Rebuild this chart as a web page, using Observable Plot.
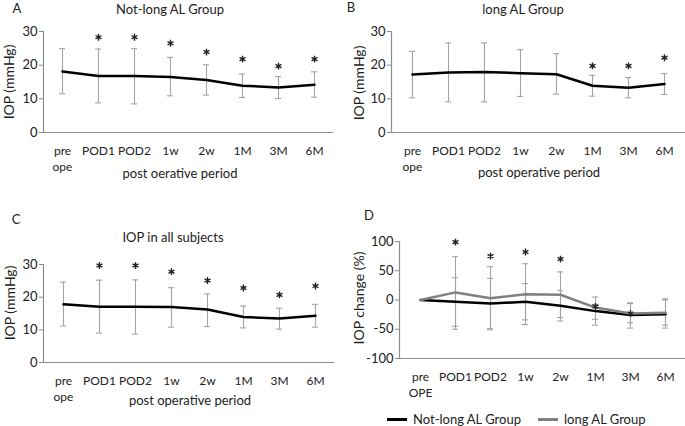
<!DOCTYPE html>
<html>
<head>
<meta charset="utf-8">
<script src="https://cdn.jsdelivr.net/npm/d3@7"></script>
<script src="https://cdn.jsdelivr.net/npm/@observablehq/plot@0.6"></script>
<style>
  html, body { margin: 0; padding: 0; background: #fff; }
  #root { position: relative; width: 685px; height: 426px; font-family: Lato, "Open Sans", sans-serif; color: #222; overflow: hidden; }
  .abs { position: absolute; white-space: nowrap; }
  .c { transform: translate(-50%, -50%); }
  .rot { transform: translate(-50%, -50%) rotate(-90deg); font-size: 14px !important; }
  .t { font-size: 13px; }
  .svgwrap { position: absolute; }
  .leg { position: absolute; height: 3px; }
</style>
</head>
<body>
<div id="root"></div>
<script>
// ---- data ----
const periods = ["pre", "POD1", "POD2", "1w", "2w", "1M", "3M", "6M"];

// Panel A: Not-long AL Group, IOP (mmHg)
const notLongMean = [18.1, 16.8, 16.8, 16.5, 15.6, 13.9, 13.4, 14.2];
const notLongHigh = [24.9, 24.8, 24.9, 22.3, 20.1, 17.4, 16.6, 18.0];
const notLongLow  = [11.5, 8.8, 8.5, 10.9, 11.1, 10.4, 10.1, 10.5];
const notLongStar = [null, 28.3, 28.3, 26.5, 23.9, 21.8, 19.7, 21.8];

// Panel B: long AL Group
const longMean = [17.2, 17.8, 18.0, 17.6, 17.3, 13.9, 13.3, 14.4];
const longHigh = [24.1, 26.6, 26.6, 24.6, 23.4, 17.0, 16.3, 17.5];
const longLow  = [10.3, 9.1, 9.1, 10.7, 11.4, 10.8, 10.3, 11.3];
const longStar = [null, null, null, null, null, 19.8, 19.8, 22.2];

// Panel C: all subjects
const allMean = [17.8, 17.1, 17.1, 17.0, 16.2, 13.9, 13.5, 14.3];
const allHigh = [24.6, 25.2, 25.3, 22.9, 21.0, 17.3, 16.6, 17.8];
const allLow  = [11.2, 9.0, 8.7, 10.8, 11.0, 10.6, 10.2, 10.8];
const allStar = [null, 29.7, 29.7, 27.8, 25.1, 22.8, 20.7, 23.4];

// Panel D: IOP change (%)
const chgNotLongMean = [0, -3, -6, -3, -10, -19, -25.5, -24.5];
const chgNotLongHigh = [null, 38, 37, 28, 16, -8, -6, 0];
const chgNotLongLow  = [null, -45, -49, -34, -36, -43, -48, -48];
const chgLongMean = [0, 13, 3, 10, 9, -13, -23, -22];
const chgLongHigh = [null, 74, 57, 62, 48, 5, -5, 2];
const chgLongLow  = [null, -50, -51, -42, -30, -33, -39, -43];
const chgStar = [null, 99, 75, 82, 70, -11, -23, null];

const iopTicks = [0, 10, 20, 30];
const chgTicks = [-100, -50, 0, 50, 100];

// ---- helpers ----
const rows = (mean, hi, lo, star) => periods.map((t, i) => ({t, m: mean[i], hi: hi[i], lo: lo[i], star: star ? star[i] : null}));
const AXIS = "#8c8c8c";
const ERR = "#a3a3a3";

function errMarks(data, color) {
  const d = data.filter(r => r.hi != null);
  return [
    Plot.ruleX(d, {x: "t", y1: "lo", y2: "hi", stroke: color, strokeWidth: 1.1}),
    Plot.ruleY(d, {x1: "t", x2: "t", y: "hi", stroke: color, strokeWidth: 1.1, insetLeft: -3, insetRight: -3}),
    Plot.ruleY(d, {x1: "t", x2: "t", y: "lo", stroke: color, strokeWidth: 1.1, insetLeft: -3, insetRight: -3})
  ];
}
function starMarks(data) {
  return Plot.dot(data.filter(r => r.star != null), {x: "t", y: "star", symbol: "asterisk", r: 3.2, stroke: "#222", strokeWidth: 1.4});
}

function panel({left, top, width, height, mL, mR, mT, mB, yDomain, yTicks, preLabel, marks}) {
  const svg = Plot.plot({
    width, height,
    marginLeft: mL, marginRight: mR, marginTop: mT, marginBottom: mB,
    style: {fontFamily: "Lato, 'Open Sans', sans-serif", fontSize: "12px", color: "#222", background: "transparent", overflow: "visible"},
    x: {type: "point", domain: periods, padding: 0.5, label: null},
    y: {domain: yDomain, label: null},
    marks: [
      Plot.axisY({ticks: yTicks, tickSize: 4, tickPadding: 2, stroke: AXIS, label: null, fontSize: 13, tickFormat: d => String(d)}),
      Plot.axisX({tickSize: 0, tickPadding: 11, label: null, lineHeight: 1.35, fontSize: 12, tickFormat: d => d === "pre" ? preLabel : d}),
      Plot.ruleY([yDomain[0]], {stroke: AXIS, strokeWidth: 1.2}),
      Plot.frame({anchor: "left", stroke: AXIS, strokeWidth: 1.2}),
      ...marks
    ]
  });
  const w = document.createElement("div");
  w.className = "svgwrap";
  w.style.left = left + "px";
  w.style.top = top + "px";
  w.appendChild(svg);
  root.appendChild(w);
}

function label(text, x, y, cls) {
  const d = document.createElement("div");
  d.className = "abs t " + cls;
  d.style.left = x + "px";
  d.style.top = y + "px";
  d.textContent = text;
  root.appendChild(d);
}

const root = document.getElementById("root");

const A = rows(notLongMean, notLongHigh, notLongLow, notLongStar);
const B = rows(longMean, longHigh, longLow, longStar);
const C = rows(allMean, allHigh, allLow, allStar);
const Dn = rows(chgNotLongMean, chgNotLongHigh, chgNotLongLow, chgStar);
const Dl = rows(chgLongMean, chgLongHigh, chgLongLow, null);

panel({left: 0, top: 0, width: 340, height: 190, mL: 43, mR: 7, mT: 31, mB: 58, yDomain: [0, 30], yTicks: iopTicks, preLabel: "pre\nope",
  marks: [...errMarks(A, ERR), Plot.line(A, {x: "t", y: "m", stroke: "#000", strokeWidth: 2.5}), starMarks(A)]});
panel({left: 340, top: 0, width: 345, height: 190, mL: 51, mR: 0, mT: 31, mB: 58, yDomain: [0, 30], yTicks: iopTicks, preLabel: "pre\nope",
  marks: [...errMarks(B, ERR), Plot.line(B, {x: "t", y: "m", stroke: "#000", strokeWidth: 2.5}), starMarks(B)]});
panel({left: 0, top: 230, width: 340, height: 190, mL: 43, mR: 6, mT: 34, mB: 58, yDomain: [0, 30], yTicks: iopTicks, preLabel: "pre\nope",
  marks: [...errMarks(C, ERR), Plot.line(C, {x: "t", y: "m", stroke: "#000", strokeWidth: 2.5}), starMarks(C)]});
panel({left: 340, top: 230, width: 345, height: 190, mL: 59, mR: 0, mT: 11, mB: 62, yDomain: [-100, 100], yTicks: chgTicks, preLabel: "pre\nOPE",
  marks: [...errMarks(Dl, ERR), ...errMarks(Dn, ERR),
    Plot.line(Dn, {x: "t", y: "m", stroke: "#000", strokeWidth: 2.5}),
    Plot.line(Dl, {x: "t", y: "m", stroke: "#808080", strokeWidth: 2.5}),
    starMarks(Dn)]});

// panel letters and titles
label("A", 17, 8, "c");
label("Not-long AL Group", 170, 9, "c");
label("B", 351, 7, "c");
label("long AL Group", 523, 9, "c");
label("C", 16, 219, "c");
label("IOP in all subjects", 173, 237, "c");
label("D", 369, 215, "c");
// axis titles
label("IOP (mmHg)", 8, 82, "rot");
label("IOP (mmHg)", 358, 83, "rot");
label("IOP (mmHg)", 9, 303, "rot");
label("IOP  change (%)", 358, 298, "rot");
label("post oerative period", 180, 173, "c");
label("post operative period", 539, 172, "c");
label("post operative period", 190, 400, "c");

// legend
const legend = [["Not-long AL Group", "#000", 387], ["long AL Group", "#808080", 538]];
for (const [name, color, x] of legend) {
  const l = document.createElement("div");
  l.className = "leg";
  l.style.left = x + "px"; l.style.top = "418px"; l.style.width = "20px"; l.style.background = color;
  root.appendChild(l);
  const d = document.createElement("div");
  d.className = "abs t";
  d.style.left = (x + 26) + "px"; d.style.top = "411px";
  d.textContent = name;
  root.appendChild(d);
}
</script>
</body>
</html>
